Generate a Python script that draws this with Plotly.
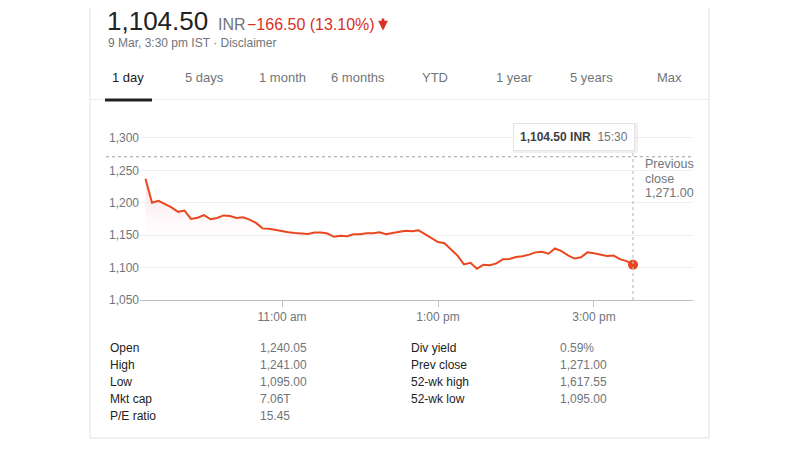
import pandas as pd
import plotly.graph_objects as go

# intraday prices, one every 5 minutes from 9:15 to 15:30
prices = [1237, 1200, 1203, 1198, 1193, 1186, 1188, 1175, 1177, 1181,
          1174.5, 1176.5, 1180.5, 1179.5, 1176.5, 1177.5, 1174, 1169, 1160.5, 1160,
          1158, 1156, 1154.5, 1153.5, 1153, 1152, 1154, 1154, 1152.5, 1147.5,
          1149, 1148.5, 1151.5, 1151.5, 1153, 1153, 1154.5, 1151.5, 1153.5, 1155,
          1157, 1156, 1157.5, 1151.5, 1146, 1139.5, 1137.5, 1128.5, 1118.5, 1105,
          1107.5, 1098.3, 1104.5, 1103.5, 1106.5, 1113, 1113.3, 1116.4, 1117.4, 1120,
          1123.5, 1124.5, 1121.5, 1129.5, 1125.5, 1119, 1114, 1116, 1123.5, 1122,
          1120.5, 1118, 1118.5, 1113, 1110, 1104.5]
times = pd.date_range("2020-03-09 09:15", periods=len(prices), freq="5min")
prev_close = 1271.00

x_tick_vals = ["2020-03-09 11:00", "2020-03-09 13:00", "2020-03-09 15:00"]
x_tick_text = ["11:00 am", "1:00 pm", "3:00 pm"]
y_tick_vals = [1050, 1100, 1150, 1200, 1250, 1300]

tabs = ["1 day", "5 days", "1 month", "6 months", "YTD", "1 year", "5 years", "Max"]

stat_labels_left = ["Open", "High", "Low", "Mkt cap", "P/E ratio"]
stat_values_left = ["1,240.05", "1,241.00", "1,095.00", "7.06T", "15.45"]
stat_labels_right = ["Div yield", "Prev close", "52-wk high", "52-wk low"]
stat_values_right = ["0.59%", "1,271.00", "1,617.55", "1,095.00"]

FONT = "Liberation Sans, Arial, sans-serif"
GREY = "#70757a"
DARK = "#222222"
RED = "#d93025"
LINE = "#e8471f"

# plot area in pixels (page coords); the page body adds an 8px margin
PL, PR, PT, PB = 140, 693, 125, 300
BODY = 8


def px(x, y):
    return (x - PL) / (PR - PL), (PB - y) / (PB - PT)


annotations = []


def ann(text, x, y, size=12, color=DARK, xanchor="left", yanchor="middle", **kw):
    ax_, ay_ = px(x, y)
    annotations.append(dict(text=text, x=ax_, y=ay_, xref="paper", yref="paper",
                            showarrow=False, xanchor=xanchor, yanchor=yanchor,
                            font=dict(family=FONT, size=size, color=color), **kw))


fig = go.Figure()

fig.add_trace(go.Scatter(
    x=times, y=prices, mode="lines",
    line=dict(color=LINE, width=2),
    fill="tozeroy",
    fillgradient=dict(type="vertical", start=1125, stop=1240,
                      colorscale=[[0, "rgba(255,255,255,0)"], [1, "rgba(240,70,110,0.22)"]]),
    hoverinfo="skip", showlegend=False))

fig.add_trace(go.Scatter(
    x=[times[-1]], y=[prices[-1]], mode="markers",
    marker=dict(color=LINE, size=10), hoverinfo="skip", showlegend=False))

shapes = []
# card border
x0, y0 = px(90, -5)
x1, y1 = px(709, 438)
shapes.append(dict(type="rect", xref="paper", yref="paper", x0=x0, y0=y0, x1=x1, y1=y1,
                   line=dict(color="#dfe1e5", width=1), layer="below"))
# tab separator
sx0, sy = px(90, 99.5)
sx1, _ = px(709, 99.5)
shapes.append(dict(type="line", xref="paper", yref="paper", x0=sx0, x1=sx1, y0=sy, y1=sy,
                   line=dict(color="#ebebeb", width=1)))
# active tab underline
ux0, uy = px(105, 100)
ux1, _ = px(152, 100)
shapes.append(dict(type="line", xref="paper", yref="paper", x0=ux0, x1=ux1, y0=uy, y1=uy,
                   line=dict(color="#202124", width=3)))
# previous close dotted line
dx0, _ = px(106, 0)
shapes.append(dict(type="line", xref="paper", yref="y", x0=dx0, x1=1, y0=prev_close, y1=prev_close,
                   line=dict(color="#9aa0a6", width=1.2, dash="dot")))
# vertical dotted line at last point
_, vy = px(0, 151)
shapes.append(dict(type="line", xref="x", yref="paper", x0=times[-1], x1=times[-1], y0=0, y1=vy,
                   line=dict(color="#bdc1c6", width=1.2, dash="dot")))
# tooltip shadow
tx0, ty0 = px(513, 153)
tx1, ty1 = px(638, 123)
shapes.append(dict(type="rect", xref="paper", yref="paper", x0=tx0, y0=ty0, x1=tx1, y1=ty1,
                   line=dict(width=0), fillcolor="rgba(0,0,0,0.06)"))
# red down arrow shaft
ax0, ay0 = px(383, 18.5)
ax1, ay1 = px(383, 26)
shapes.append(dict(type="line", xref="paper", yref="paper", x0=ax0, x1=ax1, y0=ay0, y1=ay1,
                   line=dict(color=RED, width=2.6)))

# header
ann("1,104.50", 106, 21, size=26, color=DARK, borderpad=0)
ann("INR", 216, 24, size=16, color=GREY)
ann("\u2212166.50 (13.10%)", 245, 24, size=16, color=RED)
# red down arrow head
hx, hy = px(383, 30.5)
annotations.append(dict(text="", x=hx, y=hy, xref="paper", yref="paper", showarrow=True,
                        ax=0, ay=-8, arrowhead=2, arrowsize=0.75, arrowwidth=2.6, arrowcolor=RED))
ann("9 Mar, 3:30 pm IST \u00b7 Disclaimer", 106, 43, size=12, color=GREY)

# tabs
tab_centers = [128, 204, 282, 358, 435, 514, 591, 669]
for t, cx in zip(tabs, tab_centers):
    ann(t, cx, 77, size=13, color="#202124" if t == "1 day" else GREY, xanchor="center")

# tooltip
ann("<b>1,104.50 INR</b>  <span style='color:#70757a'>15:30</span>", 574, 137, size=12,
    color="#3c4043", xanchor="center", bgcolor="white", bordercolor="#e3e3e3", borderwidth=1, borderpad=6)

# previous close label
for i, line in enumerate(["Previous", "close", "1,271.00"]):
    ann(line, 643, 164 + 14.5 * i, size=12.5, color=GREY)

# stats table
for i, (lab, val) in enumerate(zip(stat_labels_left, stat_values_left)):
    ann(lab, 108, 348 + 17 * i, color=DARK)
    ann(val, 258, 348 + 17 * i, color=GREY)
for i, (lab, val) in enumerate(zip(stat_labels_right, stat_values_right)):
    ann(lab, 409, 348 + 17 * i, color=DARK)
    ann(val, 558, 348 + 17 * i, color=GREY)

fig.update_layout(
    width=800, height=450,
    margin=dict(l=PL - BODY, r=800 - (PR - PL) - (PL - BODY), t=PT - BODY, b=450 - (PB - PT) - (PT - BODY)),
    paper_bgcolor="white", plot_bgcolor="white",
    font=dict(family=FONT, size=12, color=GREY),
    shapes=shapes, annotations=annotations,
    xaxis=dict(range=["2020-03-09 09:10:45", "2020-03-09 16:16:10"],
               tickvals=x_tick_vals, ticktext=x_tick_text,
               showgrid=False, showline=True, linecolor="#bdc1c6", linewidth=1,
               ticks="outside", ticklen=6, tickcolor="#bdc1c6",
               tickfont=dict(size=12, color=GREY), zeroline=False),
    yaxis=dict(range=[1050, 1320], tickvals=y_tick_vals, tickformat=",",
               showgrid=True, gridcolor="#f0f0f0", zeroline=False,
               tickfont=dict(size=12, color=GREY)),
)

fig.write_html("out.html")
